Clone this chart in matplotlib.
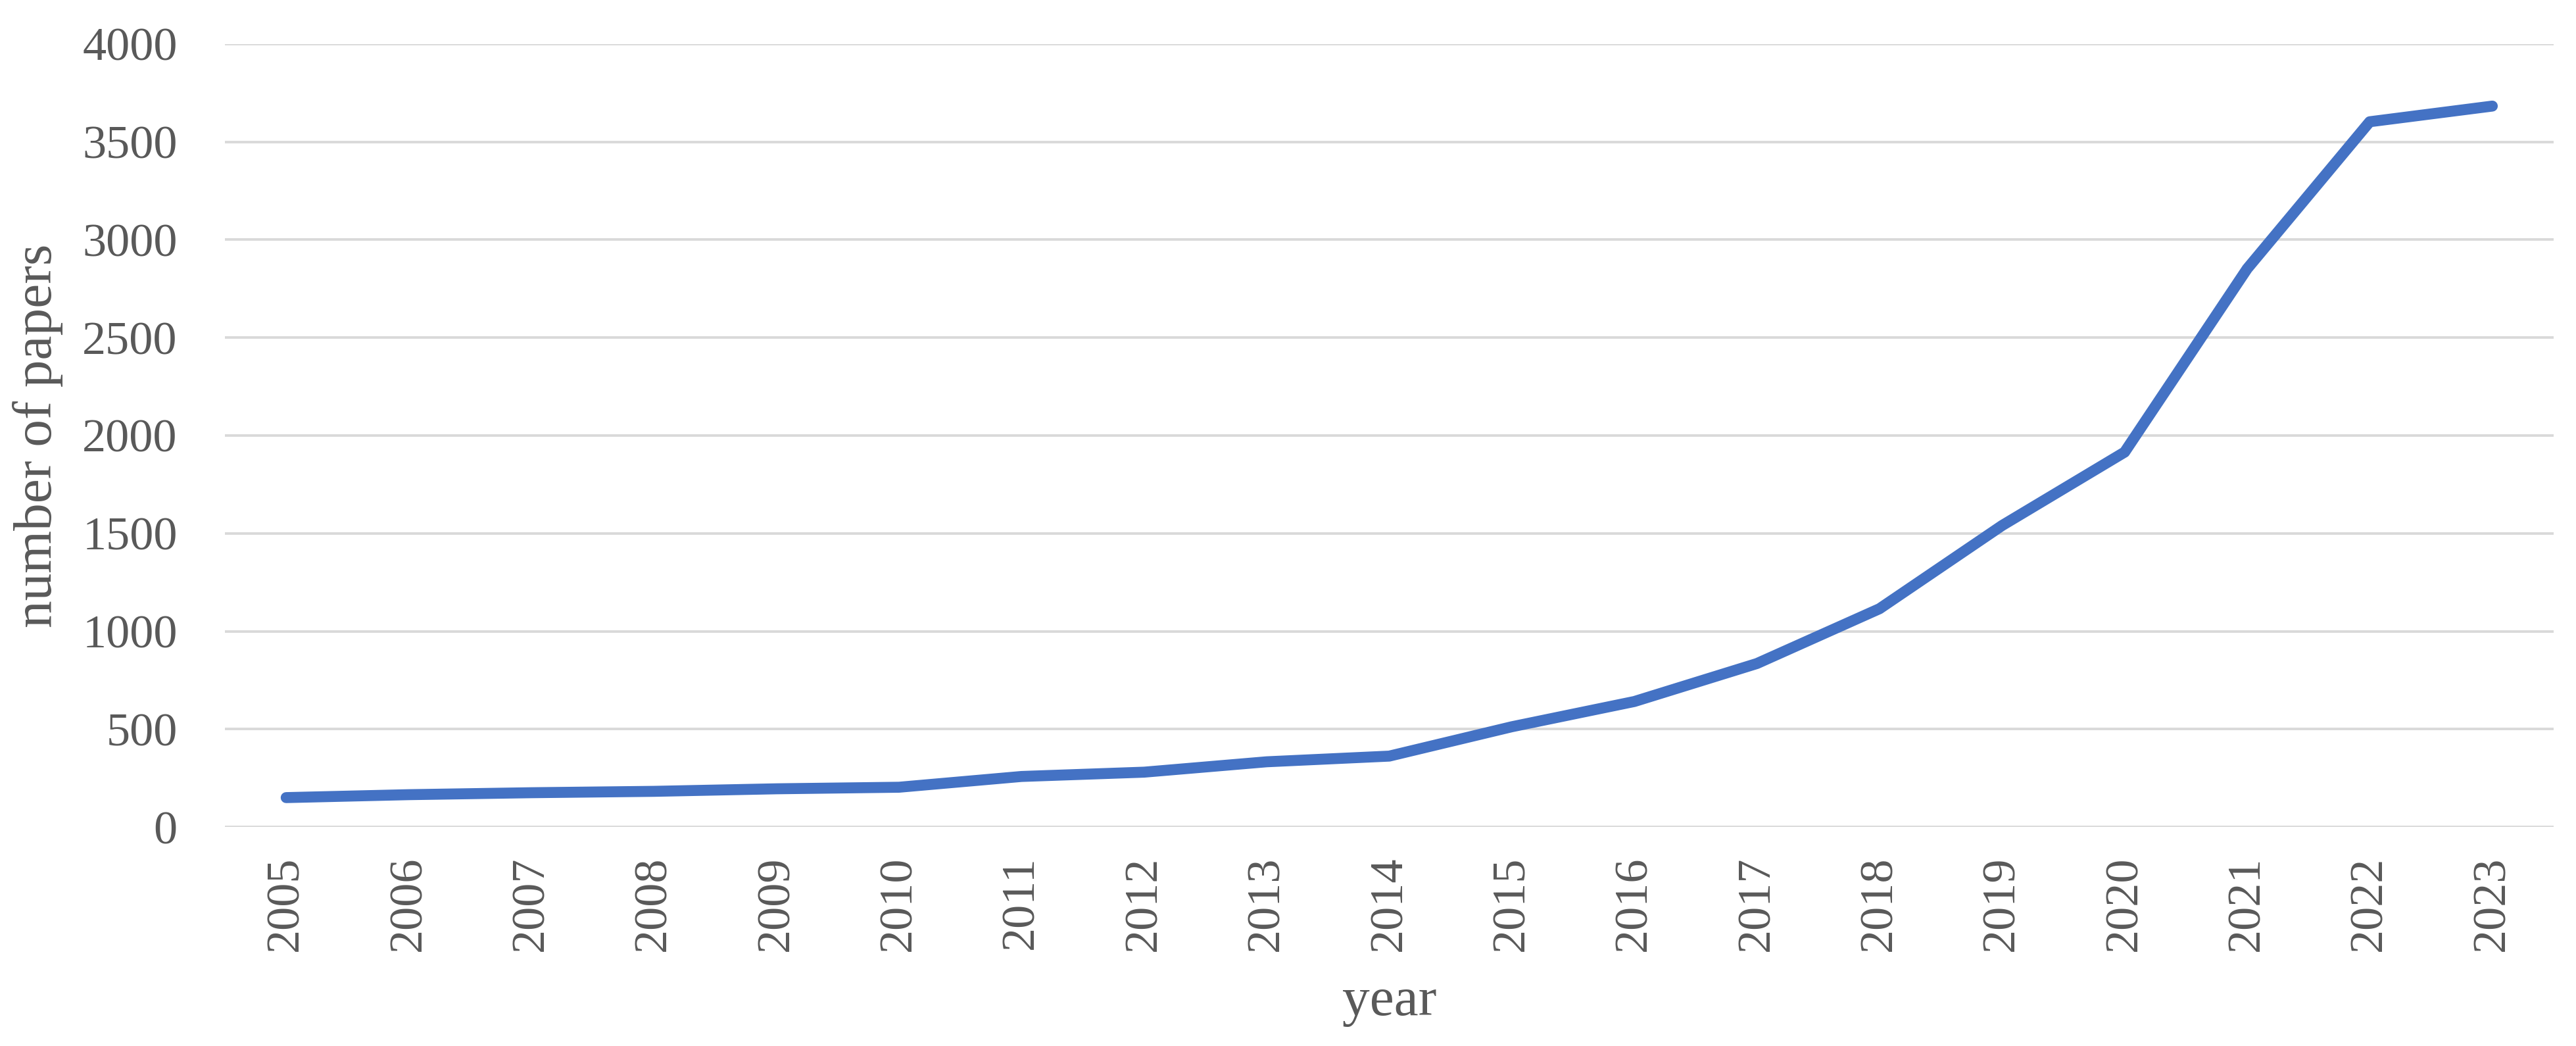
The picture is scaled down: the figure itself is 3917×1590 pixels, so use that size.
import matplotlib.pyplot as plt
import numpy as np

years = ["2005", "2006", "2007", "2008", "2009", "2010", "2011", "2012", "2013", "2014",
         "2015", "2016", "2017", "2018", "2019", "2020", "2021", "2022", "2023"]
papers = [150, 165, 175, 182, 195, 203, 258, 280, 333, 362,
          512, 641, 835, 1115, 1540, 1915, 2852, 3603, 3683]
y_ticks = [0, 500, 1000, 1500, 2000, 2500, 3000, 3500, 4000]

plt.rcParams['font.family'] = ['Liberation Serif', 'DejaVu Serif']
text_color = "#595959"

fig = plt.figure(figsize=(39.17, 15.9), dpi=100)
ax = fig.add_axes([0.0873, 0.2094, 0.904, 0.7485])

x = np.arange(len(years))
ax.plot(x, papers, color="#4472C4", linewidth=12, solid_capstyle="round", solid_joinstyle="round", zorder=3)

ax.set_xlim(-0.5, len(years) - 0.5)
ax.set_ylim(0, 4000)
ax.set_yticks(y_ticks)
ax.set_xticks(x)
ax.set_xticklabels(years, rotation=90)
ax.yaxis.grid(True, color="#D9D9D9", linewidth=2.8)
ax.set_axisbelow(True)
for s in ax.spines.values():
    s.set_visible(False)
ax.tick_params(axis="both", length=0, labelsize=52, colors=text_color)
ax.tick_params(axis="y", pad=52)
ax.tick_params(axis="x", pad=32)

ax.set_ylabel("number of papers", fontsize=60, color=text_color)
ax.set_xlabel("year", fontsize=60, color=text_color)
ax.yaxis.set_label_coords(-0.0803, 0.5)
ax.xaxis.set_label_coords(0.5, -0.224)
ax.xaxis.label.set_va("center")
ax.yaxis.label.set_va("center")

fig.savefig("out.png", dpi=100)
